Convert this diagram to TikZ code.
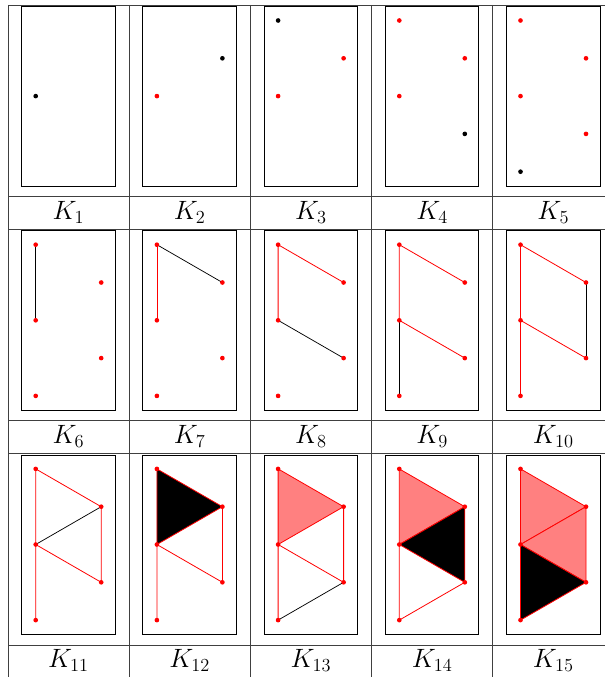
\documentclass[tikz,border=0pt]{standalone}
\usetikzlibrary{calc}
\tikzset{
  grid/.style={draw=black!75, line width=0.55pt},
  frame/.style={draw=black, line width=0.55pt},
  redge/.style={draw=red, line width=0.6pt},
  bedge/.style={draw=black, line width=0.55pt},
  face/.style={fill=red!50, draw=red, line width=0.6pt, line join=round},
  darkface/.style={fill=black, draw=red, line width=0.6pt, line join=round},
  klabel/.style={font=\LARGE, scale=1.15, inner sep=0pt}
}
% one cell of the table: frame, the five vertices a..e and the caption
\newcommand{\kpanel}[3]{%
  \begin{scope}[shift={({8+121.2*(#1)},{5+224.2*(#2)})}]
    \draw[frame] (13.5,1.5) rectangle (107.2,181);
    \coordinate (a) at (27.7,15.5);
    \coordinate (b) at (93.2,53.3);
    \coordinate (c) at (27.7,91.1);
    \coordinate (d) at (93.2,128.9);
    \coordinate (e) at (27.7,166.7);
    \node[klabel] (k#3) at (60.6,207.5) {$K_{#3}$};
  \end{scope}}
\newcommand{\rdot}[1]{\fill[red] (#1) circle (1.75pt);}
\newcommand{\bdot}[1]{\fill[black] (#1) circle (1.75pt);}
\newcommand{\alldots}{\foreach \p in {a,b,c,d,e} {\rdot{\p}}}

\begin{document}
\begin{tikzpicture}[x=0.75pt, y=-0.75pt]
  \useasboundingbox (0,0) rectangle (605,677);
  \foreach \i in {0,...,5} \draw[grid] ({8+121.2*\i},5) -- ({8+121.2*\i},677.6);
  \foreach \j in {0,...,3} \draw[grid] (8,{5+224.2*\j}) -- (614,{5+224.2*\j});
  \foreach \j in {0,1,2} \draw[grid] (8,{196.5+224.2*\j}) -- (614,{196.5+224.2*\j});

  % first row
  \kpanel{0}{0}{1}
  \bdot{c}
  \kpanel{1}{0}{2}
  \rdot{c} \bdot{b}
  \kpanel{2}{0}{3}
  \rdot{c} \rdot{b} \bdot{a}
  \kpanel{3}{0}{4}
  \rdot{c} \rdot{b} \rdot{a} \bdot{d}
  \kpanel{4}{0}{5}
  \rdot{c} \rdot{b} \rdot{a} \rdot{d} \bdot{e}

  % second row
  \kpanel{0}{1}{6}
  \draw[bedge] (a) -- (c);
  \alldots
  \kpanel{1}{1}{7}
  \draw[redge] (a) -- (c);
  \draw[bedge] (a) -- (b);
  \alldots
  \kpanel{2}{1}{8}
  \draw[redge] (c) -- (a) -- (b);
  \draw[bedge] (c) -- (d);
  \alldots
  \kpanel{3}{1}{9}
  \draw[redge] (c) -- (a) -- (b) (c) -- (d);
  \draw[bedge] (c) -- (e);
  \alldots
  \kpanel{4}{1}{10}
  \draw[redge] (e) -- (a) -- (b) (c) -- (d);
  \draw[bedge] (b) -- (d);
  \alldots

  % third row
  \kpanel{0}{2}{11}
  \draw[redge] (e) -- (a) -- (b) -- (d) -- (c);
  \draw[bedge] (c) -- (b);
  \alldots
  \kpanel{1}{2}{12}
  \draw[darkface] (a) -- (b) -- (c) -- cycle;
  \draw[redge] (c) -- (e) (b) -- (d) -- (c);
  \alldots
  \kpanel{2}{2}{13}
  \draw[face] (a) -- (b) -- (c) -- cycle;
  \draw[redge] (c) -- (e) (b) -- (d) -- (c);
  \draw[bedge] (e) -- (d);
  \alldots
  \kpanel{3}{2}{14}
  \draw[face] (a) -- (b) -- (c) -- cycle;
  \draw[darkface] (c) -- (b) -- (d) -- cycle;
  \draw[redge] (c) -- (e) -- (d);
  \alldots
  \kpanel{4}{2}{15}
  \draw[face] (a) -- (b) -- (c) -- cycle;
  \draw[face] (c) -- (b) -- (d) -- cycle;
  \draw[darkface] (c) -- (d) -- (e) -- cycle;
  \alldots
\end{tikzpicture}
\end{document}
